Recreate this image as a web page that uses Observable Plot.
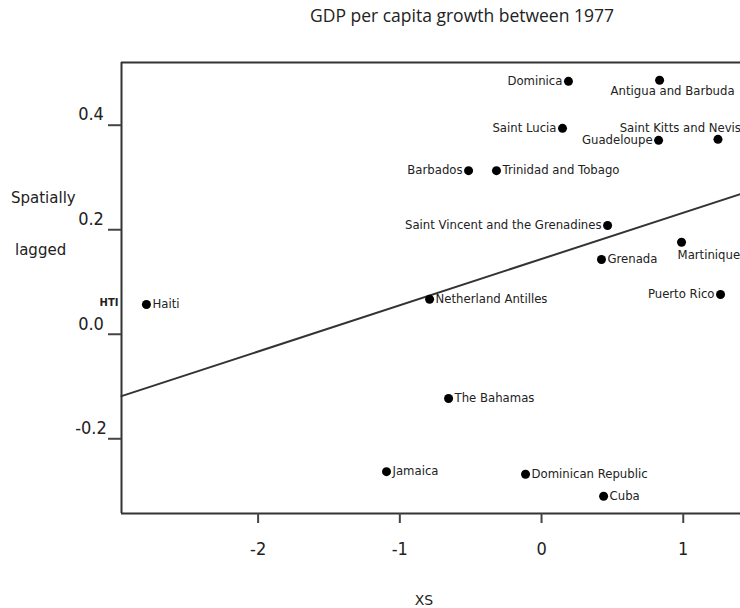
<!DOCTYPE html>
<html><head><meta charset="utf-8">
<script src="https://cdn.jsdelivr.net/npm/d3@7"></script>
<script src="https://cdn.jsdelivr.net/npm/@observablehq/plot@0.6"></script>
<style>body{margin:0;background:#fff}</style>
</head><body><div id="chart"></div>
<script>
const countries = ["Haiti","Dominica","Antigua and Barbuda","Saint Lucia","Saint Kitts and Nevis","Guadeloupe","Barbados","Trinidad and Tobago","Saint Vincent and the Grenadines","Martinique","Grenada","Puerto Rico","Netherland Antilles","The Bahamas","Jamaica","Dominican Republic","Cuba"];
const xs = [-2.788, 0.190, 0.833, 0.148, 1.245, 0.826, -0.515, -0.318, 0.466, 0.988, 0.423, 1.263, -0.790, -0.656, -1.094, -0.113, 0.438];
const lagged = [0.057, 0.484, 0.486, 0.394, 0.373, 0.371, 0.313, 0.313, 0.208, 0.176, 0.143, 0.076, 0.067, -0.123, -0.263, -0.268, -0.310];
const labelSide = ["right","left","below","left","aboveEnd","left","left","right","left","belowStart","right","left","right","right","right","right","right"];
const xTicks = [-2, -1, 0, 1];
const yTicks = [-0.2, 0, 0.2, 0.4];

const data = countries.map((c, i) => ({name: c, x: xs[i], y: lagged[i], side: labelSide[i]}));
const mx = d3.mean(xs), my = d3.mean(lagged);
const slope = d3.sum(data, d => (d.x - mx) * (d.y - my)) / d3.sum(data, d => (d.x - mx) ** 2);
const intercept = my - slope * mx;
const xDomain = [-2.964, 1.404];
const yDomain = [-0.343, 0.520];
const fit = xDomain.map(x => ({x, y: intercept + slope * x}));

const lblFont = "DejaVu Sans, sans-serif";
const tickFont = "DejaVu Sans Condensed, DejaVu Sans, sans-serif";
const txt = (side, opts) => Plot.text(data.filter(d => d.side === side), {x: "x", y: "y", text: "name", fontSize: 11.7, fontFamily: lblFont, fill: "#222", ...opts});

const plot = Plot.plot({
  width: 740, height: 608,
  marginLeft: 121, marginRight: 0, marginTop: 62, marginBottom: 95,
  x: {domain: xDomain},
  y: {domain: yDomain},
  style: {background: "#fff"},
  marks: [
    Plot.ruleY([yDomain[1]], {stroke: "#333", strokeWidth: 2}),
    Plot.ruleY([yDomain[0]], {stroke: "#333", strokeWidth: 2}),
    Plot.ruleX([xDomain[0]], {stroke: "#333", strokeWidth: 2}),
    Plot.axisX(xTicks, {tickSize: 10, tickPadding: 19, fontSize: 18, fontFamily: tickFont, fill: "#222", stroke: "#444", strokeWidth: 2, label: null, tickFormat: d => d}),
    Plot.axisY(yTicks, {tickSize: 13, stroke: "#444", strokeWidth: 2, label: null, tickFormat: () => ""}),
    Plot.axisY(yTicks, {tickSize: 0, tickPadding: 30.5, textAnchor: "middle", dy: -10.5, fontSize: 18, fontFamily: tickFont, fill: "#222", label: null, tickFormat: d => d.toFixed(1)}),
    Plot.line(fit, {x: "x", y: "y", stroke: "#333", strokeWidth: 2}),
    Plot.dot(data, {x: "x", y: "y", r: 4.5, fill: "#000"}),
    txt("left", {textAnchor: "end", dx: -6}),
    txt("right", {textAnchor: "start", dx: 6}),
    txt("below", {textAnchor: "middle", dx: 13, dy: 11}),
    txt("belowStart", {textAnchor: "start", dx: -4, dy: 13}),
    txt("aboveEnd", {textAnchor: "end", dx: 23, dy: -11}),
    Plot.text(data.filter(d => d.name === "Haiti"), {y: "y", text: () => "HTI", frameAnchor: "left", textAnchor: "end", dx: -3, dy: -2, fontSize: 10, fontWeight: "bold", fontFamily: lblFont, fill: "#222"})
  ]
});

const svg = d3.select(plot);
const addText = (x, y, anchor, family, size, s) => svg.append("text")
  .attr("x", x).attr("y", y).attr("text-anchor", anchor)
  .style("font-family", family).style("font-size", size + "px").attr("fill", "#222").text(s);
addText(462, 22, "middle", "Open Sans, sans-serif", 17.5, "GDP per capita growth between 1977");
addText(11, 203, "start", "DejaVu Sans, sans-serif", 15, "Spatially");
addText(15, 255, "start", "DejaVu Sans, sans-serif", 15, "lagged");
addText(424, 605, "middle", "DejaVu Sans, sans-serif", 14, "XS");
document.getElementById("chart").appendChild(plot);
</script>
</body></html>
